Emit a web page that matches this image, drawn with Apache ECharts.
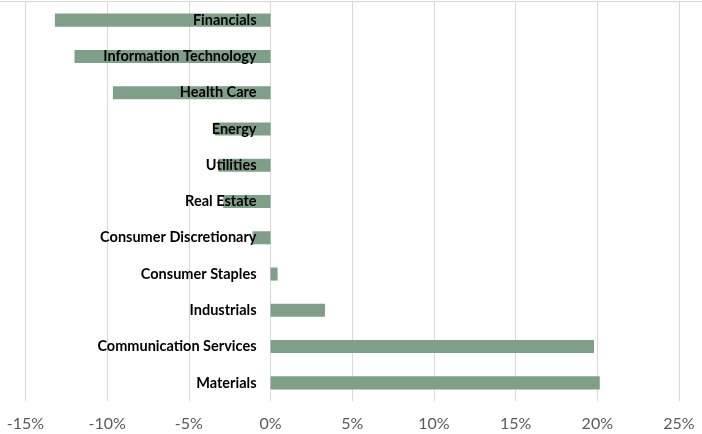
<!DOCTYPE html>
<html><head><meta charset="utf-8">
<script src="https://cdn.jsdelivr.net/npm/echarts@6/dist/echarts.min.js"></script>
<style>html,body{margin:0;padding:0;background:#fff}#c{width:702px;height:434px}</style>
</head><body><div id="c"></div>
<script>
const categories = ["Financials","Information Technology","Health Care","Energy","Utilities","Real Estate","Consumer Discretionary","Consumer Staples","Industrials","Communication Services","Materials"];
const values = [-13.2,-12.0,-9.65,-3.4,-3.2,-2.9,-1.1,0.43,3.33,19.8,20.15];
const xTicks = {min:-15,max:25,interval:5};

const chart = echarts.init(document.getElementById('c'));
chart.setOption({
  animation:false,
  graphic:[{type:'line',shape:{x1:0,y1:1.5,x2:702,y2:1.5},style:{stroke:'#d9d9d9',lineWidth:1}}],
  grid:{left:25.5,right:23,top:2,bottom:33,containLabel:false,outerBoundsMode:'none'},
  xAxis:{type:'value',min:xTicks.min,max:xTicks.max,interval:xTicks.interval,
    axisLine:{show:false},axisTick:{show:false},
    splitLine:{lineStyle:{color:'#d9d9d9',width:1}},
    axisLabel:{formatter:v=>v+'%',color:'#595959',fontSize:16,fontFamily:'Lato',margin:15}},
  yAxis:{type:'category',data:categories,inverse:true,z:10,offset:-245,
    axisLine:{show:false},axisTick:{show:false},
    axisLabel:{color:'#000',fontWeight:'bold',fontSize:14.5,fontFamily:'Lato',margin:14}},
  series:[{type:'bar',data:values,barWidth:'36%',itemStyle:{color:'#7f9f88'},z:2}]
});
</script></body></html>
